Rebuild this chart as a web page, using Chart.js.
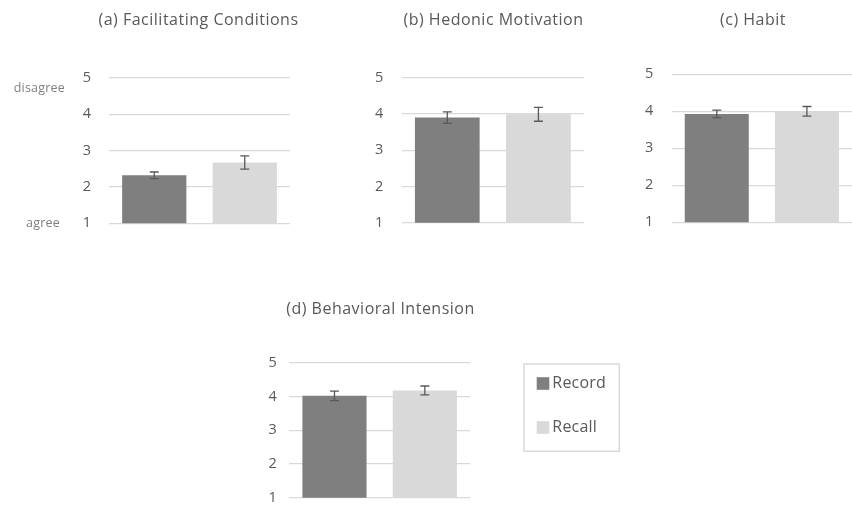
<!DOCTYPE html>
<html>
<head>
<meta charset="utf-8">
<script src="https://cdn.jsdelivr.net/npm/chart.js@4/dist/chart.umd.min.js"></script>
<style>
  html, body { margin: 0; padding: 0; background: #ffffff; }
  body { position: relative; width: 852px; height: 519px; overflow: hidden; }
  .panel { position: absolute; }
</style>
</head>
<body>
<div class="panel" id="pa"><canvas id="ca"></canvas></div>
<div class="panel" id="pb"><canvas id="cb"></canvas></div>
<div class="panel" id="pc"><canvas id="cc"></canvas></div>
<div class="panel" id="pd"><canvas id="cd"></canvas></div>
<script>
// Survey constructs, one small chart each (1 = agree, 5 = disagree)
const panelTitles = ['(a) Facilitating Conditions', '(b) Hedonic Motivation', '(c) Habit', '(d) Behavioral Intension'];
const seriesNames = ['Record', 'Recall'];
const recordMeans = [2.32, 3.90, 3.93, 4.02];
const recordErrors = [0.09, 0.16, 0.10, 0.14];
const recallMeans = [2.67, 3.99, 4.00, 4.18];
const recallErrors = [0.18, 0.19, 0.13, 0.13];
const yTicks = [1, 2, 3, 4, 5];
const scaleEnds = ['disagree', 'agree'];

const FONT = '"Open Sans", "Noto Sans", sans-serif';
const TEXT = '#595959';
const GRID = '#d9d9d9';
const COLORS = ['#7f7f7f', '#d9d9d9'];

// Canvas box and plot area of each panel, in page pixels
const layout = [
  { left: 0,   top: 0,   w: 300, h: 250, area: [109, 77.7, 290, 224.3], tickPad: 18, titleX: 198.5, titleY: 20 },
  { left: 300, top: 0,   w: 300, h: 250, area: [401.7, 77.7, 584, 224.3], tickPad: 18.5, titleX: 493.5, titleY: 20 },
  { left: 600, top: 0,   w: 252, h: 250, area: [671.7, 74.3, 852, 222.3], tickPad: 18.5, titleX: 753, titleY: 20 },
  { left: 240, top: 290, w: 400, h: 229, area: [289.3, 362.7, 470, 510.3], tickPad: 12.5, titleX: 380.5, titleY: 309 }
];

const Y_AXIS_W = 40;

// Panel title plus optional side labels and legend
const decorPlugin = {
  id: 'decor',
  afterDraw(chart, args, opts) {
    const ctx = chart.ctx;
    const L = opts.layout;
    ctx.save();
    ctx.fillStyle = TEXT;
    ctx.font = '16px ' + FONT;
    ctx.letterSpacing = '0.5px';
    ctx.textAlign = 'center';
    ctx.textBaseline = 'middle';
    ctx.fillText(opts.title, L.titleX - L.left, L.titleY - L.top);

    if (opts.sideLabels) {
      const y = chart.scales.y;
      ctx.font = '12.5px ' + FONT;
      ctx.letterSpacing = '0.2px';
      ctx.fillStyle = '#7f7f7f';
      ctx.textAlign = 'right';
      ctx.fillText(scaleEnds[0], 65, y.getPixelForValue(5) + 11);
      ctx.fillText(scaleEnds[1], 60, y.getPixelForValue(1));
    }

    if (opts.legend) {
      const bx = 524 - L.left, by = 364 - L.top, bw = 95.3, bh = 87.3;
      ctx.strokeStyle = GRID;
      ctx.lineWidth = 1.5;
      ctx.strokeRect(bx, by, bw, bh);
      ctx.font = '16px ' + FONT;
      ctx.letterSpacing = '0.2px';
      ctx.textAlign = 'left';
      chart.data.datasets.forEach((ds, i) => {
        const cy = by + 19.5 + i * 44;
        ctx.fillStyle = ds.backgroundColor;
        ctx.fillRect(bx + 12.7, cy - 6.3, 12.6, 12.6);
        ctx.fillStyle = TEXT;
        ctx.fillText(ds.label, bx + 28.3, cy);
      });
    }
    ctx.restore();
  }
};

// Error bars from each dataset's errors array
const errorBarPlugin = {
  id: 'errorBars',
  afterDatasetsDraw(chart) {
    const ctx = chart.ctx;
    const y = chart.scales.y;
    ctx.save();
    ctx.strokeStyle = '#595959';
    ctx.lineWidth = 1.3;
    chart.data.datasets.forEach((ds, i) => {
      const meta = chart.getDatasetMeta(i);
      meta.data.forEach((bar, j) => {
        const v = ds.data[j], e = ds.errors[j];
        const yt = y.getPixelForValue(v + e);
        const yb = y.getPixelForValue(v - e);
        const x = bar.x, cap = 4.5;
        ctx.beginPath();
        ctx.moveTo(x, yt); ctx.lineTo(x, yb);
        ctx.moveTo(x - cap, yt); ctx.lineTo(x + cap, yt);
        ctx.moveTo(x - cap, yb); ctx.lineTo(x + cap, yb);
        ctx.stroke();
      });
    });
    ctx.restore();
  }
};

layout.forEach((L, k) => {
  const host = document.getElementById(['pa', 'pb', 'pc', 'pd'][k]);
  host.style.left = L.left + 'px';
  host.style.top = L.top + 'px';
  host.style.width = L.w + 'px';
  host.style.height = L.h + 'px';
  const [ax0, ay0, ax1, ay1] = L.area;
  const canvas = host.querySelector('canvas');

  new Chart(canvas, {
    type: 'bar',
    data: {
      labels: [''],
      datasets: [
        { label: seriesNames[0], data: [recordMeans[k]], errors: [recordErrors[k]], backgroundColor: COLORS[0] },
        { label: seriesNames[1], data: [recallMeans[k]], errors: [recallErrors[k]], backgroundColor: COLORS[1] }
      ]
    },
    options: {
      responsive: true,
      maintainAspectRatio: false,
      animation: false,
      devicePixelRatio: 1,
      layout: {
        padding: {
          left: ax0 - L.left - Y_AXIS_W,
          right: L.left + L.w - ax1,
          top: ay0 - L.top,
          bottom: L.top + L.h - ay1
        }
      },
      datasets: { bar: { categoryPercentage: 1.0, barPercentage: 0.71 } },
      scales: {
        x: { display: false },
        y: {
          min: 1, max: 5,
          afterFit(scale) { scale.width = Y_AXIS_W; },
          afterBuildTicks(scale) { scale.ticks = yTicks.map(v => ({ value: v })); },
          border: { display: false },
          grid: { color: GRID, lineWidth: 1.2, drawTicks: false },
          ticks: { color: TEXT, padding: L.tickPad, font: { family: FONT, size: 14.5 } }
        }
      },
      plugins: {
        legend: { display: false },
        tooltip: { enabled: false },
        decor: { layout: L, title: panelTitles[k], sideLabels: k === 0, legend: k === 3 }
      }
    },
    plugins: [errorBarPlugin, decorPlugin]
  });
});
</script>
</body>
</html>
